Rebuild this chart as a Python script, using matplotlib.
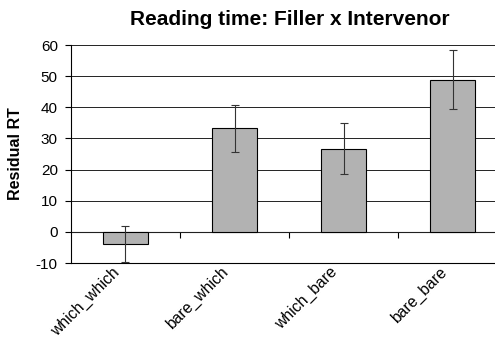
import matplotlib.pyplot as plt
import matplotlib.transforms as mtransforms
import numpy as np

# === Data ===
conditions = ["which_which", "bare_which", "which_bare", "bare_bare"]
residual_rt = [-3.9, 33.3, 26.7, 48.9]
rt_error = [5.9, 7.5, 8.2, 9.5]

plt.rcParams['font.family'] = ['Liberation Sans', 'DejaVu Sans']
plt.rcParams['axes.unicode_minus'] = False

fig = plt.figure(figsize=(4.95, 3.43), dpi=100)
ax = fig.add_axes([0.1434, 0.2332, 0.881, 0.6356])

x = np.arange(len(conditions))
ax.bar(x, residual_rt, width=0.41, color='#b2b2b2', edgecolor='black',
       linewidth=0.8, zorder=3)
ax.errorbar(x, residual_rt, yerr=rt_error, fmt='none', ecolor='#333333',
            elinewidth=0.8, capsize=3, capthick=0.8, zorder=4)

ax.set_xlim(-0.5, 3.5)
ax.set_ylim(-10, 60)
ax.set_yticks(np.arange(-10, 61, 10))
ax.yaxis.grid(True, color='#222222', linewidth=0.7, zorder=0)
ax.set_axisbelow(True)

for side in ['top', 'right']:
    ax.spines[side].set_visible(False)
ax.spines['left'].set_linewidth(0.8)
ax.spines['bottom'].set_linewidth(0.8)

ax.tick_params(axis='y', direction='out', length=4.5, width=0.8, labelsize=11, pad=5)
ax.set_xticks(x)
ax.set_xticklabels(conditions, rotation=45, ha='right', fontsize=11.3)
ax.tick_params(axis='x', length=0, pad=1)
shift = mtransforms.ScaledTranslation(-3 / 100, 0, fig.dpi_scale_trans)
for lbl in ax.get_xticklabels():
    lbl.set_transform(lbl.get_transform() + shift)

# category axis crossing at zero
zero_axis = ax.secondary_xaxis(10 / 70)
zero_axis.set_xticks([0.5, 1.5, 2.5])
zero_axis.set_xticklabels([])
zero_axis.tick_params(direction='out', length=4, width=0.8)
zero_axis.spines['bottom'].set_linewidth(0.8)

ax.set_ylabel("Residual RT", fontsize=11.5, fontweight='bold')
ax.yaxis.set_label_coords(-0.110, 0.502)
fig.text(0.586, 0.942, "Reading time: Filler x Intervenor", ha='center',
         va='center', fontsize=15, fontweight='bold')

fig.savefig("out.png", dpi=100)
